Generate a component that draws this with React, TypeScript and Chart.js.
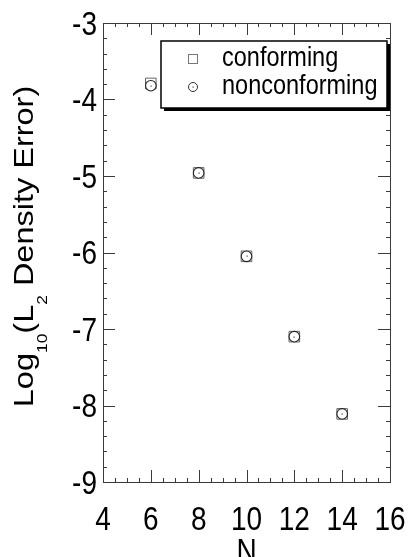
import React, { useEffect, useRef } from "react";
import { Chart, registerables } from "chart.js";

Chart.register(...registerables);

// Polynomial order N and log10 of the L2 density error
const orders = [6, 8, 10, 12, 14];
const conformingErr = [-3.79, -4.96, -6.05, -7.1, -8.11];
const nonconformingErr = [-3.82, -4.96, -6.05, -7.1, -8.11];
const seriesLabels = ["conforming", "nonconforming"];
const xAxisTitle = "N";

// Axis ranges and tick spacing
const xRange = [4, 16];
const yRange = [-9, -3];
const xMajorStep = 2;
const xMinorStep = 0.5;
const yMajorStep = 1;
const yMinorStep = 0.2;

const FONT = "'Liberation Sans', Arial, Helvetica, sans-serif";
const FRAME = "#3a3a3a";
// text in this figure is drawn slightly tall (taller than the font's natural shape)
const STRETCH = 1.16;

function steps(min: number, max: number, step: number): number[] {
  const out: number[] = [];
  const n = Math.round((max - min) / step);
  for (let i = 0; i <= n; i++) out.push(min + i * step);
  return out;
}

// Draw text whose cap/digit centre sits at (x, y), stretched vertically
function tallText(
  ctx: CanvasRenderingContext2D,
  text: string,
  x: number,
  y: number,
  size: number,
  align: CanvasTextAlign
) {
  ctx.save();
  ctx.translate(x, y);
  ctx.scale(1, STRETCH);
  ctx.font = `${size}px ${FONT}`;
  ctx.textAlign = align;
  ctx.textBaseline = "alphabetic";
  ctx.fillText(text, 0, 0.358 * size);
  ctx.restore();
}

// Frame with inward-pointing ticks on all four sides, plus tick labels
const frameTicks = {
  id: "frameTicks",
  afterDatasetsDraw(chart: any) {
    const { ctx, chartArea: a, scales } = chart;
    const xs = scales.x;
    const ys = scales.y;
    ctx.save();
    ctx.strokeStyle = FRAME;
    ctx.lineWidth = 1;
    ctx.beginPath();
    const major = 12;
    const minor = 4;
    for (const v of steps(xRange[0], xRange[1], xMinorStep)) {
      const isMajor = Math.abs(v / xMajorStep - Math.round(v / xMajorStep)) < 1e-6;
      const len = isMajor ? major : minor;
      const px = Math.round(xs.getPixelForValue(v)) + 0.5;
      ctx.moveTo(px, a.bottom);
      ctx.lineTo(px, a.bottom - len);
      ctx.moveTo(px, a.top);
      ctx.lineTo(px, a.top + len);
    }
    for (const v of steps(yRange[0], yRange[1], yMinorStep)) {
      const isMajor = Math.abs(v / yMajorStep - Math.round(v / yMajorStep)) < 1e-6;
      const len = isMajor ? major : minor;
      const py = Math.round(ys.getPixelForValue(v)) + 0.5;
      ctx.moveTo(a.left, py);
      ctx.lineTo(a.left + len, py);
      ctx.moveTo(a.right, py);
      ctx.lineTo(a.right - len, py);
    }
    ctx.stroke();
    ctx.strokeRect(
      Math.round(a.left) + 0.5,
      Math.round(a.top) + 0.5,
      Math.round(a.right - a.left),
      Math.round(a.bottom - a.top)
    );

    // small centre dot inside each circle marker
    const meta = chart.getDatasetMeta(1);
    ctx.fillStyle = "#444";
    for (const p of meta.data) {
      ctx.fillRect(Math.round(p.x) - 0.5, Math.round(p.y) - 0.5, 1.2, 1.2);
    }

    // tick labels from the scales' own ticks
    ctx.fillStyle = "#000";
    for (const t of xs.ticks) {
      tallText(ctx, String(t.value), xs.getPixelForValue(t.value), a.bottom + 36.5, 28, "center");
    }
    for (const t of ys.ticks) {
      tallText(ctx, String(t.value), a.left - 6, ys.getPixelForValue(t.value), 28, "right");
    }
    // x-axis title
    tallText(ctx, xAxisTitle, (a.left + a.right) / 2, a.bottom + 68, 28, "center");
    ctx.restore();
  },
};

// Boxed legend with drop shadow in the upper right of the plot
const boxLegend = {
  id: "boxLegend",
  afterDraw(chart: any) {
    const { ctx, chartArea: a } = chart;
    const bx = a.left + 58;
    const by = a.top + 18;
    const bw = 226;
    const bh = 67;
    ctx.save();
    ctx.fillStyle = "#000";
    ctx.fillRect(bx + 3, by + 3, bw, bh);
    ctx.fillStyle = "#fff";
    ctx.fillRect(bx, by, bw, bh);
    ctx.strokeStyle = "#000";
    ctx.lineWidth = 1.5;
    ctx.strokeRect(bx, by, bw, bh);

    const rows = [by + 18, by + 46];
    const mx = bx + 32;
    // square marker
    ctx.lineWidth = 1;
    ctx.strokeStyle = "#777";
    ctx.strokeRect(mx - 4.5, rows[0] - 4.5, 9, 9);
    // circle marker
    ctx.strokeStyle = "#333";
    ctx.beginPath();
    ctx.arc(mx, rows[1], 4.5, 0, Math.PI * 2);
    ctx.stroke();
    ctx.fillStyle = "#444";
    ctx.fillRect(mx - 0.5, rows[1] - 0.5, 1.2, 1.2);

    ctx.fillStyle = "#000";
    const labels = chart.data.datasets.map((d: any) => d.label);
    labels.forEach((t: string, i: number) => {
      ctx.save();
      ctx.translate(bx + 61, rows[i]);
      ctx.scale(1, STRETCH);
      ctx.font = `23.5px ${FONT}`;
      ctx.textAlign = "left";
      ctx.textBaseline = "alphabetic";
      ctx.fillText(t, 0, 0.26 * 23.5);
      ctx.restore();
    });
    ctx.restore();
  },
};

// Rotated y-axis title with subscripts: Log10(L2 Density Error)
const yTitle = {
  id: "yTitle",
  afterDraw(chart: any) {
    const { ctx, chartArea: a } = chart;
    const parts: [string, boolean][] = [
      ["Log", false],
      ["10", true],
      ["(L", false],
      ["2", true],
      [" Density Error)", false],
    ];
    const big = `28px ${FONT}`;
    const small = `15px ${FONT}`;
    let total = 0;
    const widths = parts.map(([t, sub]) => {
      ctx.font = sub ? small : big;
      const w = ctx.measureText(t).width;
      total += w;
      return w;
    });
    ctx.save();
    const baseX = 33;
    const cy = (a.top + a.bottom) / 2 - 6;
    ctx.translate(baseX, cy);
    ctx.rotate(-Math.PI / 2);
    ctx.scale(STRETCH, 1);
    ctx.fillStyle = "#000";
    ctx.textAlign = "left";
    ctx.textBaseline = "alphabetic";
    let u = -total / 2;
    parts.forEach(([t, sub], i) => {
      ctx.font = sub ? small : big;
      ctx.fillText(t, u, sub ? 13.5 : 0);
      u += widths[i];
    });
    ctx.restore();
  },
};

export default function App() {
  const ref = useRef<HTMLCanvasElement | null>(null);

  useEffect(() => {
    if (!ref.current) return;
    const chart = new Chart(ref.current, {
      type: "scatter",
      data: {
        datasets: [
          {
            label: seriesLabels[0],
            data: orders.map((n, i) => ({ x: n, y: conformingErr[i] })),
            pointStyle: "rect",
            pointRadius: 7.5,
            borderColor: "#666666",
            backgroundColor: "#ffffff",
            borderWidth: 1,
            order: 1,
          },
          {
            label: seriesLabels[1],
            data: orders.map((n, i) => ({ x: n, y: nonconformingErr[i] })),
            pointStyle: "circle",
            pointRadius: 5.3,
            borderColor: "#222222",
            backgroundColor: "#ffffff",
            borderWidth: 1.1,
            order: 0,
          },
        ],
      },
      options: {
        responsive: false,
        animation: false,
        layout: { padding: { top: 23, right: 18, left: 0, bottom: 0 } },
        plugins: {
          legend: { display: false },
          tooltip: { enabled: false },
        },
        scales: {
          x: {
            type: "linear",
            min: xRange[0],
            max: xRange[1],
            grid: { display: false, drawTicks: false },
            border: { display: false },
            ticks: { stepSize: xMajorStep, display: false },
            afterFit(s: any) {
              s.height = 75;
            },
          },
          y: {
            type: "linear",
            min: yRange[0],
            max: yRange[1],
            grid: { display: false, drawTicks: false },
            border: { display: false },
            ticks: { stepSize: yMajorStep, display: false },
            afterFit(s: any) {
              s.width = 103;
            },
          },
        },
      },
      plugins: [frameTicks, boxLegend, yTitle],
    });
    return () => chart.destroy();
  }, []);

  return (
    <div style={{ position: "absolute", left: 0, top: 0, width: 408, height: 557, background: "#fff" }}>
      <canvas ref={ref} width={408} height={557} />
    </div>
  );
}
